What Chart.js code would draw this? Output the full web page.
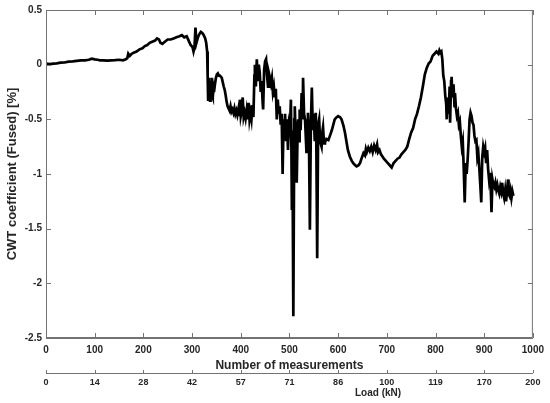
<!DOCTYPE html>
<html>
<head>
<meta charset="utf-8">
<script src="https://cdn.jsdelivr.net/npm/chart.js@4"></script>
<style>
  html, body { margin: 0; padding: 0; background: #fff; }
  #wrap { width: 550px; height: 403px; }
</style>
</head>
<body>
<div id="wrap"><canvas id="cwtChart"></canvas></div>
<script>
const measurements = [
  0, 8, 15, 22, 30, 38, 46, 55, 63, 72, 80, 88, 94, 100, 106, 111, 118, 126, 134, 142,
  150, 158, 164, 167, 169, 172, 176, 180, 186, 192, 198, 203, 208, 213, 218, 224, 228, 232, 235, 239,
  244, 250, 256, 262, 268, 274, 279, 284, 289, 293, 297, 301, 303, 305, 307, 309, 312, 315, 318, 321,
  324, 327, 329, 331, 332, 333, 334, 335, 336, 337, 338, 339, 340, 341, 342, 343, 344, 345, 347, 349,
  351, 353, 355, 357, 359, 361, 363, 365, 367, 369, 371, 373, 375, 377, 379, 381, 383, 385, 387, 389,
  391, 393, 395, 397, 398, 400, 402, 404, 406, 408, 410, 412, 414, 416, 418, 420, 422, 424, 426, 428,
  429, 431, 433, 435, 437, 439, 441, 443, 445, 446, 448, 450, 452, 454, 456, 458, 460, 462, 464, 466,
  468, 470, 472, 474, 476, 478, 480, 482, 484, 486, 488, 490, 491, 493, 495, 497, 499, 501, 503, 504,
  505, 506, 508, 510, 511, 513, 515, 517, 518, 520, 521, 523, 525, 527, 528, 530, 532, 534, 535, 537,
  538, 540, 542, 544, 546, 548, 550, 552, 554, 555, 557, 559, 561, 563, 566, 568, 569, 571, 573, 576,
  580, 584, 587, 590, 593, 597, 600, 604, 607, 611, 614, 617, 620, 624, 628, 631, 635, 638, 642, 645,
  648, 652, 655, 657, 659, 662, 665, 668, 671, 674, 677, 680, 682, 685, 688, 691, 694, 698, 702, 706,
  710, 714, 718, 722, 726, 730, 734, 738, 742, 746, 750, 754, 758, 762, 766, 770, 774, 778, 782, 786,
  790, 794, 798, 802, 806, 808, 810, 812, 814, 816, 818, 820, 822, 823, 825, 827, 829, 830, 832, 833,
  835, 837, 839, 840, 842, 844, 846, 848, 850, 852, 854, 856, 858, 860, 862, 864, 866, 868, 870, 872,
  874, 876, 878, 880, 882, 884, 886, 888, 890, 892, 894, 896, 898, 900, 902, 904, 906, 908, 910, 912,
  914, 915, 917, 919, 921, 923, 925, 927, 929, 931, 933, 935, 937, 939, 941, 943, 945, 947, 949, 950,
  952, 954, 956, 958, 960
];
const cwtFused = [
  0.01, 0.005, 0.01, 0.012, 0.018, 0.02, 0.028, 0.03, 0.035, 0.04, 0.04, 0.045, 0.055, 0.048, 0.045, 0.04, 0.04, 0.037, 0.04, 0.042,
  0.045, 0.04, 0.05, 0.06, 0.1, 0.08, 0.1, 0.11, 0.12, 0.14, 0.15, 0.17, 0.18, 0.2, 0.21, 0.22, 0.24, 0.23, 0.2, 0.19,
  0.21, 0.23, 0.23, 0.24, 0.25, 0.26, 0.27, 0.25, 0.26, 0.22, 0.18, 0.16, 0.12, 0.16, 0.34, 0.2, 0.25, 0.28, 0.3, 0.29,
  0.27, 0.24, 0.2, 0.12, -0.1, -0.32, -0.12, -0.3, -0.15, -0.33, -0.18, -0.3, -0.12, -0.28, -0.2, -0.3, -0.22, -0.25, -0.18, -0.12,
  -0.09, -0.08, -0.1, -0.1, -0.11, -0.12, -0.16, -0.2, -0.23, -0.28, -0.34, -0.38, -0.4, -0.42, -0.38, -0.43, -0.41, -0.44, -0.4, -0.45,
  -0.42, -0.46, -0.41, -0.46, -0.32, -0.47, -0.42, -0.3, -0.48, -0.44, -0.49, -0.42, -0.5, -0.35, -0.5, -0.44, -0.5, -0.37, -0.48, -0.1,
  0.0, -0.2, 0.05, -0.15, 0.0, -0.07, -0.25, -0.15, -0.35, -0.41, -0.05, 0.03, 0.05, -0.1, -0.2, -0.08, -0.12, -0.17, -0.12, -0.25,
  -0.2, -0.3, -0.22, -0.5, -0.32, -0.45, -0.38, -0.55, -0.45, -1.0, -0.5, -0.6, -0.45, -0.7, -0.5, -0.78, -0.55, -0.6, -0.32, -0.75,
  -1.33, -0.6, -2.3, -0.5, -0.38, -0.7, -1.08, -0.55, -0.5, -0.7, -0.41, -0.6, -0.26, -0.5, -0.12, -0.45, -0.5, -0.7, -0.81, -0.55,
  -0.44, -0.65, -1.51, -0.55, -0.21, -0.6, -0.45, -0.7, -0.44, -0.6, -1.77, -0.55, -0.5, -0.7, -0.75, -0.6, -0.57, -0.72, -0.71, -0.68,
  -0.69, -0.64, -0.6, -0.55, -0.5, -0.48, -0.47, -0.48, -0.5, -0.56, -0.62, -0.7, -0.78, -0.84, -0.88, -0.9, -0.92, -0.93, -0.92, -0.9,
  -0.86, -0.81, -0.83, -0.77, -0.8, -0.76, -0.79, -0.75, -0.8, -0.74, -0.78, -0.73, -0.8, -0.78, -0.82, -0.84, -0.86, -0.88, -0.9, -0.92,
  -0.94, -0.9, -0.88, -0.86, -0.85, -0.82, -0.8, -0.78, -0.75, -0.68, -0.62, -0.58, -0.5, -0.45, -0.38, -0.3, -0.2, -0.09, -0.03, 0.01,
  0.03, 0.08, 0.1, 0.12, 0.1, 0.13, 0.11, 0.12, 0.05, -0.1, -0.15, -0.28, -0.36, -0.5, -0.3, -0.45, -0.2, -0.53, -0.15, -0.11,
  -0.3, -0.18, -0.38, -0.26, -0.4, -0.47, -0.44, -0.55, -0.52, -0.65, -0.75, -0.7, -0.95, -1.26, -0.9, -1.0, -0.87, -0.7, -0.5, -0.44,
  -0.47, -0.53, -0.55, -0.65, -0.7, -0.69, -0.85, -0.81, -0.95, -1.1, -1.26, -0.85, -0.75, -0.8, -0.76, -0.9, -0.78, -0.95, -1.05, -0.99,
  -1.2, -1.35, -1.05, -1.1, -1.12, -1.08, -1.14, -1.1, -1.15, -1.18, -1.12, -1.16, -1.08, -1.18, -1.22, -1.15, -1.25, -1.15, -1.05, -1.18,
  -1.2, -1.15, -1.22, -1.16, -1.2
];

// secondary axis: load (kN) shown under every 100 measurements
const loadTicks = ["0", "14", "28", "42", "57", "71", "86", "100", "119", "170", "200"];

const axisGrey = "#737373";
const textColor = "#262626";
const fontFamily = "'Liberation Sans', Arial, sans-serif";

// MATLAB-like box with inward ticks, plus the little up-ticks on the load axis
const matlabBox = {
  id: "matlabBox",
  afterDraw(chart) {
    const { ctx, chartArea } = chart;
    const { left, right, top, bottom } = chartArea;
    const x = chart.scales.x;
    const y = chart.scales.y;
    const x2 = chart.scales.x2;
    const tick = 5;
    ctx.save();
    ctx.strokeStyle = axisGrey;
    ctx.lineWidth = 1;
    ctx.beginPath();
    ctx.rect(left + 0.5, top + 0.5, right - left - 1, bottom - top - 1);
    x.ticks.forEach((t) => {
      const px = Math.round(x.getPixelForValue(t.value)) + 0.5;
      ctx.moveTo(px, bottom);
      ctx.lineTo(px, bottom - tick);
      ctx.moveTo(px, top);
      ctx.lineTo(px, top + tick);
    });
    y.ticks.forEach((t) => {
      const py = Math.round(y.getPixelForValue(t.value)) + 0.5;
      ctx.moveTo(left, py);
      ctx.lineTo(left + tick, py);
      ctx.moveTo(right, py);
      ctx.lineTo(right - tick, py);
    });
    x2.ticks.forEach((t) => {
      const px = Math.round(x2.getPixelForValue(t.value)) + 0.5;
      ctx.moveTo(px, x2.top);
      ctx.lineTo(px, x2.top - 3);
    });
    ctx.stroke();

    ctx.fillStyle = textColor;
    ctx.font = "bold 10px " + fontFamily;
    ctx.textAlign = "center";
    ctx.textBaseline = "middle";
    ctx.fillText("Load (kN)", x2.getPixelForValue(682), 393);
    ctx.restore();
  },
};

const ctx = document.getElementById("cwtChart").getContext("2d");
const cwtChart = new Chart(ctx, {
  type: "line",
  data: {
    labels: measurements,
    datasets: [
      {
        label: "CWT coefficient (Fused)",
        data: measurements.map((m, i) => ({ x: m, y: cwtFused[i] })),
        borderColor: "#000",
        backgroundColor: "#000",
        borderWidth: 2.7,
        pointRadius: 0,
        tension: 0,
      },
    ],
  },
  options: {
    responsive: true,
    maintainAspectRatio: false,
    animation: false,
    layout: {
      padding: { top: 10, right: 17, bottom: 0, left: 0 },
    },
    plugins: {
      legend: { display: false },
      tooltip: { enabled: false },
    },
    scales: {
      x: {
        type: "linear",
        position: "bottom",
        min: 0,
        max: 1000,
        afterFit: (scale) => {
          scale.height = 35;
        },
        ticks: {
          stepSize: 100,
          padding: 6,
          maxRotation: 0,
          color: textColor,
          font: { family: fontFamily, size: 10, weight: "bold" },
          callback: (v) => String(v),
        },
        grid: { display: false, drawTicks: false },
        border: { display: true, color: axisGrey },
        title: {
          display: true,
          text: "Number of measurements",
          color: textColor,
          padding: { top: 0, bottom: 0 },
          font: { family: fontFamily, size: 12, weight: "bold" },
        },
      },
      x2: {
        type: "linear",
        position: "bottom",
        min: 0,
        max: 1000,
        afterFit: (scale) => {
          scale.height = 30;
        },
        ticks: {
          stepSize: 100,
          padding: 4,
          maxRotation: 0,
          color: textColor,
          font: { family: fontFamily, size: 9, weight: "bold" },
          callback: (v) => loadTicks[Math.round(v / 100)],
        },
        grid: { display: false, drawTicks: false },
        border: { display: true, color: axisGrey },
      },
      y: {
        min: -2.5,
        max: 0.5,
        afterFit: (scale) => {
          scale.width = 46;
        },
        ticks: {
          stepSize: 0.5,
          padding: 4,
          color: textColor,
          font: { family: fontFamily, size: 10, weight: "bold" },
          callback: (v) => String(v),
        },
        grid: { display: false, drawTicks: false },
        border: { display: true, color: axisGrey },
        title: {
          display: true,
          text: "CWT coefficient (Fused) [%]",
          color: textColor,
          padding: { top: 5, bottom: 0 },
          font: { family: fontFamily, size: 13, weight: "bold" },
        },
      },
    },
  },
  plugins: [matlabBox],
});
</script>
</body>
</html>
